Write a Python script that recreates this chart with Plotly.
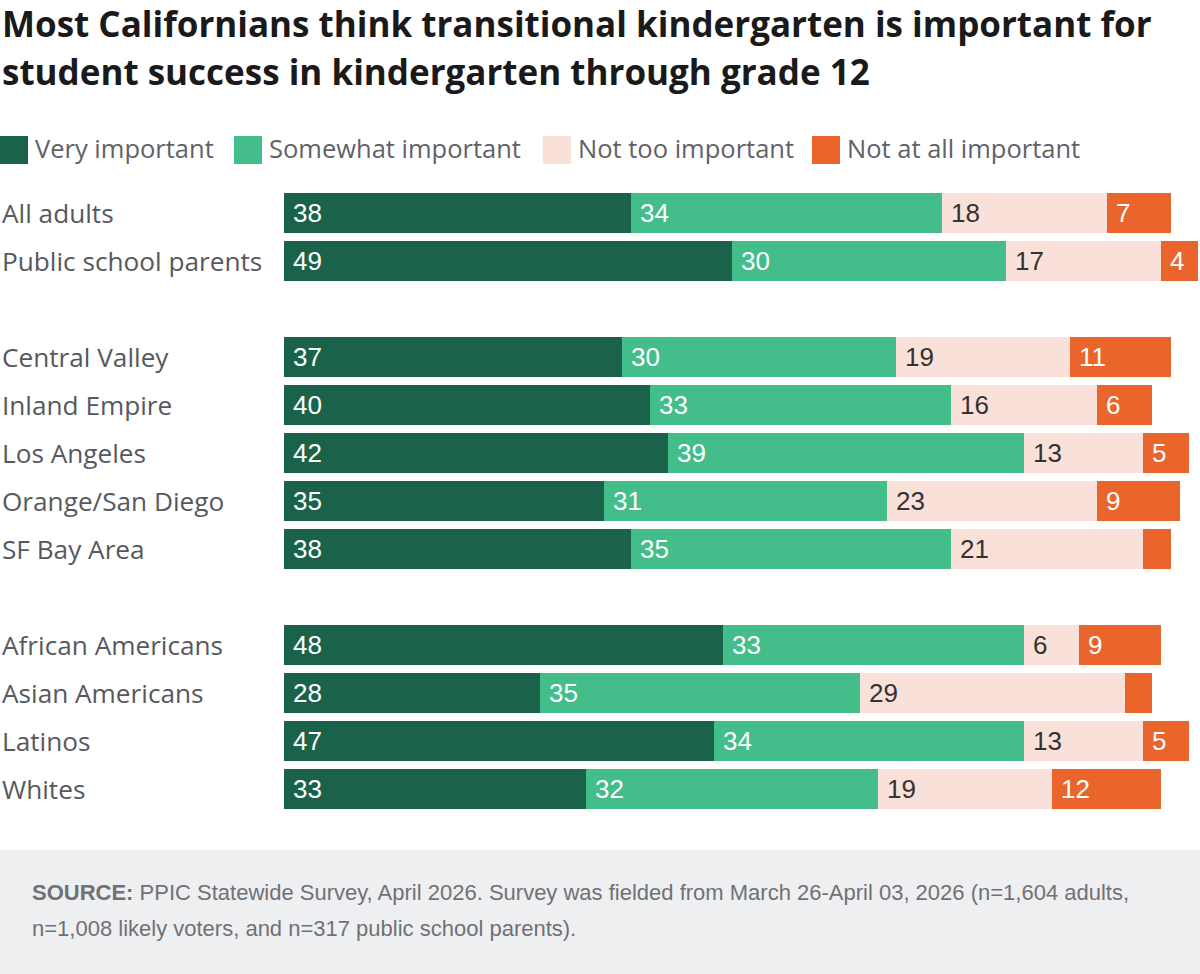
import plotly.graph_objects as go

categories = ["All adults", "Public school parents",
              "Central Valley", "Inland Empire", "Los Angeles", "Orange/San Diego", "SF Bay Area",
              "African Americans", "Asian Americans", "Latinos", "Whites"]
positions = [0, 1, 3, 4, 5, 6, 7, 9, 10, 11, 12]

series_names = ["Very important", "Somewhat important", "Not too important", "Not at all important"]
very = [38, 49, 37, 40, 42, 35, 38, 48, 28, 47, 33]
somewhat = [34, 30, 30, 33, 39, 31, 35, 33, 35, 34, 32]
not_too = [18, 17, 19, 16, 13, 23, 21, 6, 29, 13, 19]
not_at_all = [7, 4, 11, 6, 5, 9, 3, 9, 3, 5, 12]
series_values = [very, somewhat, not_too, not_at_all]

colors = ["#1a634a", "#43bd8a", "#f9e1da", "#e9652c"]
label_colors = ["#ffffff", "#ffffff", "#333333", "#ffffff"]

title_lines = ["Most Californians think transitional kindergarten is important for",
               "student success in kindergarten through grade 12"]
source_bold = "SOURCE:"
source_text = (" PPIC Statewide Survey, April 2026. Survey was fielded from March 26-April 03, 2026 (n=1,604 adults,",
               "n=1,008 likely voters, and n=317 public school parents).")

W, H = 1200, 974
ML, MR, MT, MB = 284, 2, 189, 161
PW = W - ML - MR
PH = H - MT - MB


def px(x):
    return (x - ML) / PW


def py(y):
    return (H - MB - y) / PH


fig = go.Figure()
for name, vals, col in zip(series_names, series_values, colors):
    fig.add_trace(go.Bar(y=positions, x=vals, orientation="h", name=name,
                         marker=dict(color=col, line=dict(width=0)),
                         width=0.833, hoverinfo="skip", showlegend=False))

annotations = []
# value labels
for i, p in enumerate(positions):
    cum = 0
    for s, vals in enumerate(series_values):
        v = vals[i]
        if v >= 4:
            annotations.append(dict(x=cum, y=p, xref="x", yref="y", text=str(v), showarrow=False,
                                    xanchor="left", yanchor="middle", xshift=7,
                                    font=dict(family="Liberation Sans, Arial", size=26, color=label_colors[s])))
        cum += v

# category labels
for c, p in zip(categories, positions):
    annotations.append(dict(x=px(0), y=p, xref="paper", yref="y", text=c, showarrow=False,
                            xanchor="left", yanchor="middle",
                            font=dict(family="Open Sans", size=26.2, color="#56595d")))

# title
for k, line in enumerate(title_lines):
    annotations.append(dict(x=px(0), y=py([23, 71][k]), xref="paper", yref="paper", text="<b>" + line + "</b>",
                            showarrow=False, xanchor="left", yanchor="middle",
                            font=dict(family="Open Sans", size=35, color="#1a1a1a")))

# legend
shapes = []
leg_x = [0, 234, 543, 812]
for k, name in enumerate(series_names):
    shapes.append(dict(type="rect", xref="paper", yref="paper",
                       x0=px(leg_x[k]), x1=px(leg_x[k] + 28), y0=py(164), y1=py(136),
                       fillcolor=colors[k], line=dict(width=0)))
    annotations.append(dict(x=px(leg_x[k] + 33), y=py(148), xref="paper", yref="paper", text=name,
                            showarrow=False, xanchor="left", yanchor="middle",
                            font=dict(family="Open Sans", size=25.5, color="#5f6267")))

# footer
shapes.append(dict(type="rect", xref="paper", yref="paper", x0=px(0), x1=px(W), y0=py(H), y1=py(850),
                   fillcolor="#eeeff1", line=dict(width=0), layer="below"))
annotations.append(dict(x=px(30), y=py(892), xref="paper", yref="paper",
                        text="<b>" + source_bold + "</b>" + source_text[0], showarrow=False,
                        xanchor="left", yanchor="middle",
                        font=dict(family="Liberation Sans, Arial", size=22, color="#707175")))
annotations.append(dict(x=px(30), y=py(928), xref="paper", yref="paper",
                        text=source_text[1], showarrow=False,
                        xanchor="left", yanchor="middle",
                        font=dict(family="Liberation Sans, Arial", size=22, color="#707175")))

fig.update_layout(
    width=W, height=H, barmode="stack", bargap=0,
    margin=dict(l=ML, r=MR, t=MT, b=MB, pad=0),
    paper_bgcolor="white", plot_bgcolor="white",
    xaxis=dict(range=[0, 100], visible=False, fixedrange=True),
    yaxis=dict(range=[12.5, -0.5], visible=False, fixedrange=True),
    annotations=annotations, shapes=shapes, showlegend=False,
)

fig.write_html("out.html", config={"displayModeBar": False})
